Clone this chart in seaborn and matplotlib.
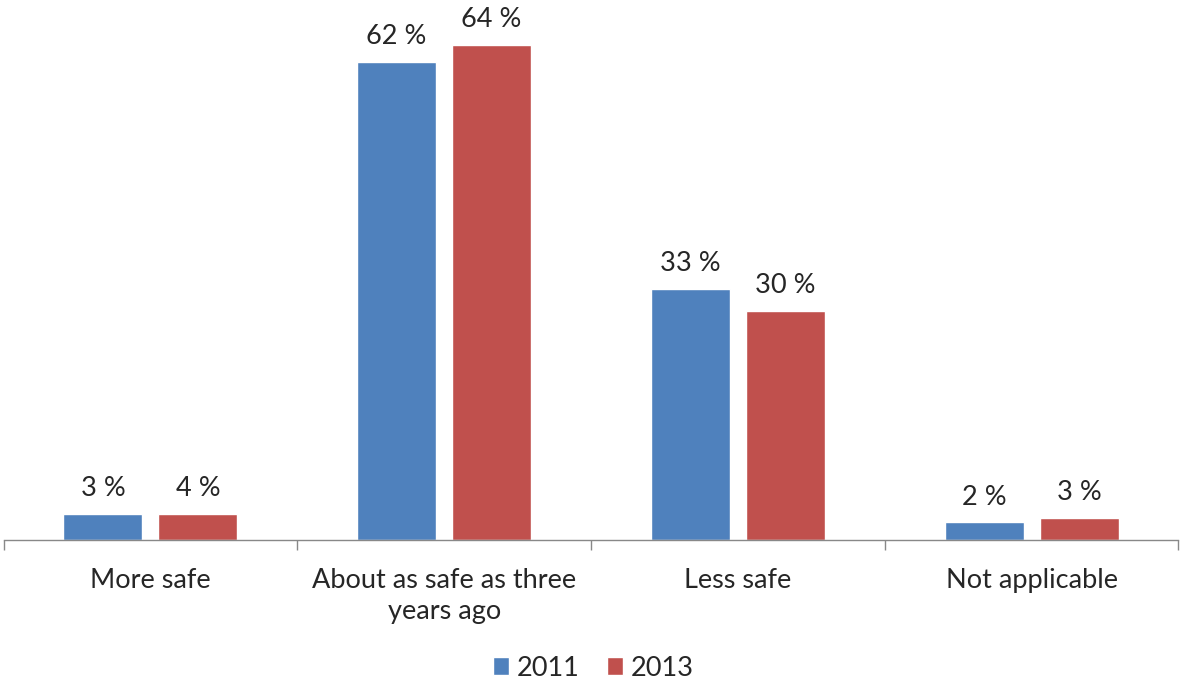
import pandas as pd
import seaborn as sns
import matplotlib.pyplot as plt
from matplotlib.patches import Patch

# Values
categories = ['More safe', 'About as safe as three\nyears ago', 'Less safe', 'Not applicable']
years = ['2011', '2013']
values_2011 = [3.4, 62.0, 32.6, 2.3]
values_2013 = [3.4, 64.2, 29.7, 2.9]
labels_2011 = ['3 %', '62 %', '33 %', '2 %']
labels_2013 = ['4 %', '64 %', '30 %', '3 %']
colors = ['#4F81BD', '#C0504D']

df = pd.DataFrame({
    'Category': categories * 2,
    'Year': [years[0]] * 4 + [years[1]] * 4,
    'Share': values_2011 + values_2013,
})

sns.set_style('white')
plt.rcParams['font.family'] = ['Lato', 'DejaVu Sans']
fs = 19.5

fig = plt.figure(figsize=(11.82, 6.88), dpi=100)
ax = fig.add_axes([0.003, 0.215, 0.994, 0.785])

sns.barplot(data=df, x='Category', y='Share', hue='Year', order=categories,
            hue_order=years, palette=colors, width=0.647, gap=0.17,
            saturation=1, legend=False, ax=ax)

# Data labels
for cont, labs in zip(ax.containers, [labels_2011, labels_2013]):
    ax.bar_label(cont, labels=labs, padding=9, fontsize=fs)

ax.set_xlim(-0.5, 3.5)
ax.set_ylim(0, 70)
ax.set_xlabel('')
ax.set_ylabel('')
ax.set_yticks([])

# category boundary ticks
ax.set_xticks([-0.5, 0.5, 1.5, 2.5, 3.5], minor=True)
ax.tick_params(axis='x', which='minor', length=7, width=1, color='#888888', direction='out', bottom=True)
ax.tick_params(axis='x', which='major', length=0, pad=20, labelsize=fs)
for lab in ax.get_xticklabels():
    lab.set_linespacing(1.3)

for s in ['top', 'right', 'left']:
    ax.spines[s].set_visible(False)
ax.spines['bottom'].set_color('#888888')
ax.spines['bottom'].set_linewidth(1)

handles = [Patch(facecolor=c, label=y) for c, y in zip(colors, years)]
fig.legend(handles=handles, loc='center', bbox_to_anchor=(0.502, 0.029), ncol=2,
           frameon=False, fontsize=fs, handlelength=0.6, handleheight=0.6,
           handletextpad=0.3, columnspacing=1.0)

fig.savefig('out.png', dpi=100)
